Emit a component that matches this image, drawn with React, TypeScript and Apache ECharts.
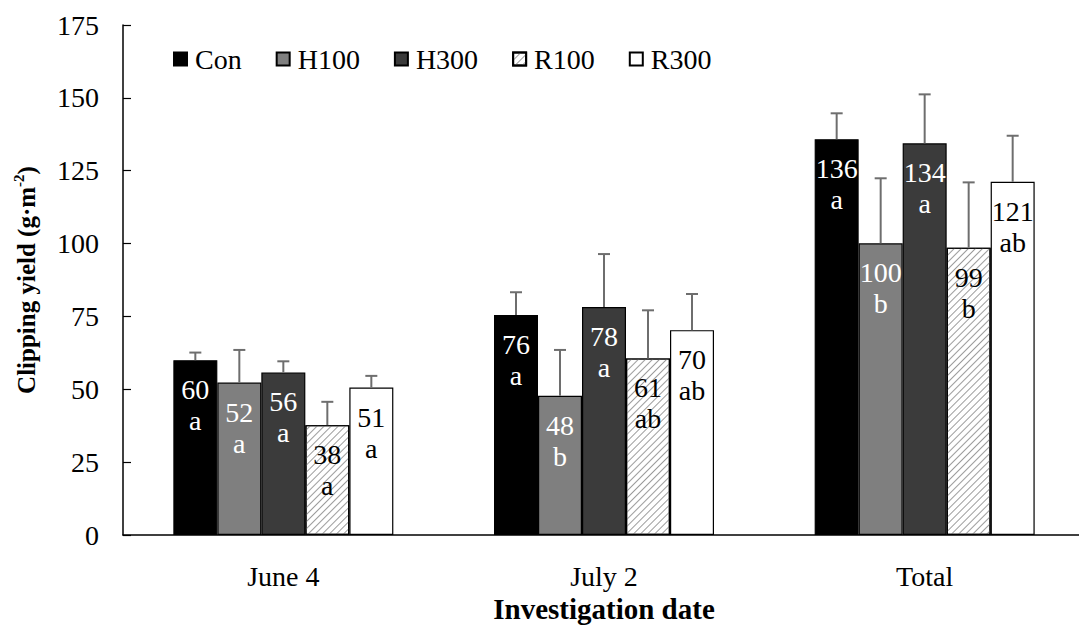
import React, { useEffect, useRef } from "react";
import * as echarts from "echarts";

const categories = ["June 4", "July 2", "Total"];
const treatments = ["Con", "H100", "H300", "R100", "R300"];

const conValues = [60.0, 75.5, 135.8];
const h100Values = [52.3, 47.8, 100.1];
const h300Values = [55.8, 78.2, 134.4];
const r100Values = [37.7, 60.6, 98.6];
const r300Values = [50.6, 70.3, 121.2];

const conErrors = [2.6, 7.8, 8.9];
const h100Errors = [11.2, 15.7, 22.3];
const h300Errors = [3.8, 18.2, 16.8];
const r100Errors = [8.0, 16.5, 22.4];
const r300Errors = [4.0, 12.4, 15.8];

const conLetters = ["a", "a", "a"];
const h100Letters = ["a", "b", "b"];
const h300Letters = ["a", "a", "a"];
const r100Letters = ["a", "ab", "b"];
const r300Letters = ["a", "ab", "ab"];

const yMin = 0;
const yMax = 175;
const yInterval = 25;

const valuesList = [conValues, h100Values, h300Values, r100Values, r300Values];
const errorsList = [conErrors, h100Errors, h300Errors, r100Errors, r300Errors];
const lettersList = [conLetters, h100Letters, h300Letters, r100Letters, r300Letters];

const FONT = "Liberation Serif";
const BAR_W = 44;
const CAP_W = 12;
const ERR_COLOR = "#6e6e6e";
const LABEL_OFFSET = 14;
const LINE_H = 31;

const fills = ["#000000", "#7f7f7f", "#3b3b3b", "#ffffff", "#ffffff"];
const labelColors = ["#ffffff", "#ffffff", "#ffffff", "#000000", "#000000"];

export default function App() {
  const ref = useRef<HTMLDivElement>(null);

  useEffect(() => {
    if (!ref.current) return;
    const chart = echarts.init(ref.current, null, { renderer: "svg" });

    const barSeries = treatments.map((name, s) => {
      const itemStyle: any = {
        color: fills[s],
        borderColor: "#000000",
        borderWidth: 1.2,
      };
      if (name === "R100") {
        itemStyle.decal = {
          symbol: "rect",
          symbolSize: 1,
          color: "#9c9c9c",
          backgroundColor: "#ffffff",
          dashArrayX: [1, 0],
          dashArrayY: [1, 3.2],
          rotation: -Math.PI / 4,
        };
      }
      return {
        name,
        type: "bar",
        barWidth: BAR_W,
        barGap: "0%",
        data: valuesList[s],
        itemStyle,
        label: { show: false },
      };
    });

    const errData: number[][] = [];
    const numTexts: string[] = [];
    const letterTexts: string[] = [];
    valuesList.forEach((vals, s) => {
      vals.forEach((v, c) => {
        errData.push([c, s, v, errorsList[s][c]]);
        numTexts.push(String(Math.round(v)));
        letterTexts.push(lettersList[s][c]);
      });
    });

    const errSeries = {
      type: "custom",
      name: "err",
      data: errData,
      encode: { x: 0, y: 2 },
      z: 5,
      renderItem: (params: any, api: any) => {
        const c = api.value(0);
        const s = api.value(1);
        const v = api.value(2);
        const e = api.value(3);
        const base = api.coord([c, v]);
        const top = api.coord([c, v + e]);
        const x = base[0] + (s - 2) * BAR_W;
        const style = { stroke: ERR_COLOR, lineWidth: 2 };
        const txtStyle = (t: string) => ({
          text: t,
          fontFamily: FONT,
          fontSize: 28,
          lineHeight: LINE_H,
          fill: labelColors[s],
          align: "center",
          verticalAlign: "top",
        });
        return {
          type: "group",
          children: [
            {
              type: "text",
              x,
              y: base[1] + LABEL_OFFSET,
              style: txtStyle(numTexts[params.dataIndex]),
            },
            {
              type: "text",
              x,
              y: base[1] + LABEL_OFFSET + LINE_H,
              style: txtStyle(letterTexts[params.dataIndex]),
            },
            { type: "line", shape: { x1: x, y1: base[1], x2: x, y2: top[1] }, style },
            {
              type: "line",
              shape: { x1: x - CAP_W / 2, y1: top[1], x2: x + CAP_W / 2, y2: top[1] },
              style,
            },
          ],
        };
      },
    };

    chart.setOption({
      animation: false,
      backgroundColor: "#ffffff",
      textStyle: { fontFamily: FONT },
      grid: {
        left: 123,
        right: -6,
        top: 25,
        bottom: 90,
        containLabel: false,
        outerBoundsMode: "none",
      },
      legend: {
        data: treatments,
        left: 168,
        top: 40,
        icon: "rect",
        itemWidth: 13,
        itemHeight: 13,
        itemGap: 34,
        textStyle: {
          fontFamily: FONT,
          fontSize: 28,
          color: "#000000",
          padding: [0, 0, 0, 3],
        },
      },
      xAxis: {
        type: "category",
        data: categories,
        name: "Investigation date",
        nameLocation: "middle",
        nameGap: 58,
        nameTextStyle: {
          fontFamily: FONT,
          fontSize: 29,
          fontWeight: "bold",
          color: "#000000",
        },
        axisLine: { lineStyle: { color: "#000000", width: 1.5 } },
        axisTick: { show: false },
        axisLabel: {
          fontFamily: FONT,
          fontSize: 28,
          color: "#000000",
          margin: 27,
        },
      },
      yAxis: {
        type: "value",
        min: yMin,
        max: yMax,
        interval: yInterval,
        name: "{b|Clipping yield (g·m}{s|-2}{b|)}",
        nameLocation: "middle",
        nameGap: 82,
        nameTextStyle: {
          rich: {
            b: {
              fontFamily: FONT,
              fontSize: 25,
              fontWeight: "bold",
              color: "#000000",
              lineHeight: 30,
            },
            s: {
              fontFamily: FONT,
              fontSize: 15,
              fontWeight: "bold",
              color: "#000000",
              verticalAlign: "top",
              lineHeight: 18,
            },
          },
        },
        splitLine: { show: false },
        axisLine: { show: true, lineStyle: { color: "#000000", width: 1.5 } },
        axisTick: {
          show: true,
          inside: true,
          length: 8,
          lineStyle: { color: "#000000", width: 1.2 },
        },
        axisLabel: {
          fontFamily: FONT,
          fontSize: 28,
          color: "#000000",
          margin: 24,
        },
      },
      series: [...barSeries, errSeries],
    });

    return () => chart.dispose();
  }, []);

  return (
    <div
      ref={ref}
      style={{
        position: "fixed",
        left: 0,
        top: 0,
        width: 1079,
        height: 625,
        background: "#ffffff",
      }}
    />
  );
}
